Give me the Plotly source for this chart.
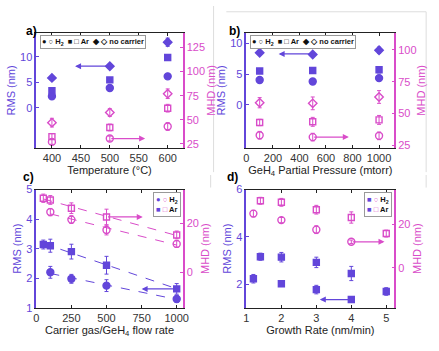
import numpy as np
import plotly.graph_objects as go

BLUE = '#6246DA'
PINK = '#D94CC9'
FONT = 'Liberation Sans, Arial, sans-serif'

# ---------------- Panel a : Temperature ----------------
temp = [400, 500, 600]
a_rms_h2 = [2.3, 3.9, 6.2]
a_rms_ar = [3.4, 5.5, 9.9]
a_rms_nc = [5.9, 8.2, 12.9]
a_rms_h2_err = [0.3, 0.4, 0.5]
a_rms_ar_err = [0.3, 0.3, 0.3]
a_rms_nc_err = [0.3, 0.3, 0.8]
a_mhd_h2 = [27, 30.5, 43]
a_mhd_ar = [32.5, 42, 62]
a_mhd_nc = [47, 57.5, 77]
a_mhd_h2_err = [2.5, 2.5, 4]
a_mhd_ar_err = [3, 3.5, 4]
a_mhd_nc_err = [4.5, 4, 5]

# ---------------- Panel b : GeH4 partial pressure ----------------
pp = [100, 500, 1000]
b_rms_h2 = [4.05, 3.8, 4.35]
b_rms_ar = [5.5, 5.6, 5.7]
b_rms_nc = [8.5, 8.2, 8.9]
b_rms_h2_err = [0.3, 0.4, 0.3]
b_rms_ar_err = [0.3, 0.3, 0.5]
b_rms_nc_err = [0.3, 0.3, 0.5]
b_mhd_h2 = [33, 31.5, 32.5]
b_mhd_ar = [43, 43.5, 45]
b_mhd_nc = [58.5, 58, 63]
b_mhd_h2_err = [3, 3, 3]
b_mhd_ar_err = [2.5, 3.5, 3.5]
b_mhd_nc_err = [4, 5, 5]

# ---------------- Panel c : Carrier gas / GeH4 flow rate ----------------
flow_h2 = [100, 250, 500, 1000]
flow_ar = [50, 100, 250, 500, 1000]
c_rms_h2 = [2.2, 1.98, 1.75, 1.3]
c_rms_h2_err = [0.2, 0.15, 0.2, 0.12]
c_rms_ar = [3.14, 3.1, 2.9, 2.44, 1.64]
c_rms_ar_err = [0.15, 0.22, 0.25, 0.3, 0.18]
c_mhd_h2 = [24.7, 21.6, 17.3, 11.6]
c_mhd_h2_err = [1.5, 1.6, 2.0, 1.3]
c_mhd_ar = [30.4, 29.7, 26.3, 22.7, 15.3]
c_mhd_ar_err = [1.7, 1.8, 2.2, 3.2, 1.6]

# ---------------- Panel d : Growth rate ----------------
gr_h2 = [1.2, 2, 3, 4]
gr_ar = [1.4, 2, 3, 4, 5]
d_rms_h2 = [2.23, 2.02, 1.77, 1.35]
d_rms_h2_err = [0.18, 0.12, 0.18, 0.08]
d_rms_ar = [3.16, 3.14, 2.92, 2.45, 1.69]
d_rms_ar_err = [0.15, 0.2, 0.22, 0.3, 0.16]
d_mhd_h2 = [24.9, 21.9, 17.5, 11.9]
d_mhd_h2_err = [1.5, 1.2, 1.8, 0.8]
d_mhd_ar = [30.8, 30.1, 26.7, 23.1, 15.7]
d_mhd_ar_err = [1.6, 1.8, 2.0, 2.6, 1.6]

W, H = 439, 351
def px(x):
    return x / W
def py(y):
    return 1 - y / H

fig = go.Figure()

SIZES = {'circle': 7, 'circle-open': 7, 'square': 6, 'square-open': 6,
         'diamond': 6.5, 'diamond-open': 6.5}

def pts(x, y, err, ax_x, ax_y, color, symbol):
    fig.add_trace(go.Scatter(
        x=x, y=y, mode='markers', xaxis=ax_x, yaxis=ax_y, showlegend=False,
        marker=dict(symbol=symbol, size=SIZES[symbol], color=color,
                    line=dict(color=color, width=1.4)),
        error_y=dict(type='data', array=err, color=color, thickness=1, width=2)))

def fitline(x, y, ax_x, ax_y, color):
    k, b = np.polyfit(x, y, 1)
    xs = np.array([min(x), max(x)])
    fig.add_trace(go.Scatter(
        x=xs, y=k * xs + b, mode='lines', xaxis=ax_x, yaxis=ax_y, showlegend=False,
        line=dict(color=color, width=1, dash='dash')))

# a
pts(temp, a_rms_nc, a_rms_nc_err, 'x', 'y', BLUE, 'diamond')
pts(temp, a_rms_ar, a_rms_ar_err, 'x', 'y', BLUE, 'square')
pts(temp, a_rms_h2, a_rms_h2_err, 'x', 'y', BLUE, 'circle')
pts(temp, a_mhd_nc, a_mhd_nc_err, 'x', 'y2', PINK, 'diamond-open')
pts(temp, a_mhd_ar, a_mhd_ar_err, 'x', 'y2', PINK, 'square-open')
pts(temp, a_mhd_h2, a_mhd_h2_err, 'x', 'y2', PINK, 'circle-open')
# b
pts(pp, b_rms_nc, b_rms_nc_err, 'x2', 'y3', BLUE, 'diamond')
pts(pp, b_rms_ar, b_rms_ar_err, 'x2', 'y3', BLUE, 'square')
pts(pp, b_rms_h2, b_rms_h2_err, 'x2', 'y3', BLUE, 'circle')
pts(pp, b_mhd_nc, b_mhd_nc_err, 'x2', 'y4', PINK, 'diamond-open')
pts(pp, b_mhd_ar, b_mhd_ar_err, 'x2', 'y4', PINK, 'square-open')
pts(pp, b_mhd_h2, b_mhd_h2_err, 'x2', 'y4', PINK, 'circle-open')
# c
fitline(flow_h2, c_rms_h2, 'x3', 'y5', BLUE)
fitline(flow_ar, c_rms_ar, 'x3', 'y5', BLUE)
fitline(flow_h2, c_mhd_h2, 'x3', 'y6', PINK)
fitline(flow_ar, c_mhd_ar, 'x3', 'y6', PINK)
pts(flow_h2, c_rms_h2, c_rms_h2_err, 'x3', 'y5', BLUE, 'circle')
pts(flow_ar, c_rms_ar, c_rms_ar_err, 'x3', 'y5', BLUE, 'square')
pts(flow_h2, c_mhd_h2, c_mhd_h2_err, 'x3', 'y6', PINK, 'circle-open')
pts(flow_ar, c_mhd_ar, c_mhd_ar_err, 'x3', 'y6', PINK, 'square-open')
# d
pts(gr_h2, d_rms_h2, d_rms_h2_err, 'x4', 'y7', BLUE, 'square')
pts(gr_ar, d_rms_ar, d_rms_ar_err, 'x4', 'y7', BLUE, 'square')
pts(gr_h2, d_mhd_h2, d_mhd_h2_err, 'x4', 'y8', PINK, 'circle-open')
pts(gr_ar, d_mhd_ar, d_mhd_ar_err, 'x4', 'y8', PINK, 'square-open')

def xax(domain, anchor, rng, tickvals, title):
    return dict(domain=domain, anchor=anchor, range=rng, tickvals=tickvals,
                showline=True, linecolor='#222', linewidth=1, mirror='ticks',
                ticks='inside', ticklen=3, tickcolor='#222', showgrid=False, zeroline=False,
                tickfont=dict(family=FONT, size=11, color='#333'),
                title=dict(text=title, font=dict(family=FONT, size=11, color='#222'), standoff=2))

def yl(domain, anchor, rng, tickvals):
    return dict(domain=domain, anchor=anchor, range=rng, tickvals=tickvals,
                showline=True, linecolor=BLUE, linewidth=1.5, ticks='inside', ticklen=3,
                tickcolor=BLUE, showgrid=False, zeroline=False,
                tickfont=dict(family=FONT, size=11, color=BLUE),
                title=dict(text='RMS (nm)', font=dict(family=FONT, size=11, color=BLUE), standoff=2))

def yr(overlay, anchor, rng, tickvals):
    return dict(overlaying=overlay, anchor=anchor, side='right', range=rng, tickvals=tickvals,
                showline=True, linecolor=PINK, linewidth=1.5, ticks='inside', ticklen=3,
                tickcolor=PINK, showgrid=False, zeroline=False,
                tickfont=dict(family=FONT, size=11, color=PINK),
                title=dict(text='MHD (nm)', font=dict(family=FONT, size=11, color=PINK), standoff=2))

dom_xl = [px(34), px(183.5)]
dom_xr = [px(248.5), px(399.5)]
dom_yt = [py(146.7), py(28)]
dom_yb = [py(312.5), py(190)]

fig.update_layout(
    width=W, height=H, margin=dict(l=0, r=0, t=0, b=0),
    paper_bgcolor='white', plot_bgcolor='white',
    font=dict(family=FONT),
    xaxis=xax(dom_xl, 'y', [373, 626], [400, 450, 500, 550, 600], 'Temperature (°C)'),
    yaxis=yl(dom_yt, 'x', [-7.8, 14.7], [0, 5, 10]),
    yaxis2=yr('y', 'x', [21, 140], [25, 50, 75, 100, 125]),
    xaxis2=xax(dom_xr, 'y3', [0, 1115], [0, 200, 400, 600, 800, 1000], 'GeH<sub>4</sub> Partial Pressure (mtorr)'),
    yaxis3=yl(dom_yt, 'x2', [-7, 11.7], [0, 5, 10]),
    yaxis4=yr('y3', 'x2', [23.2, 113.2], [25, 50, 75, 100]),
    xaxis3=xax(dom_xl, 'y5', [0, 1043], [0, 250, 500, 750, 1000], 'Carrier gas/GeH<sub>4</sub> flow rate'),
    yaxis5=yl(dom_yb, 'x3', [1, 5], [1, 2, 3, 4, 5]),
    yaxis6=yr('y5', 'x3', [-14.7, 34], [0, 20]),
    xaxis4=xax(dom_xr, 'y7', [1, 5.23], [1, 2, 3, 4, 5], 'Growth Rate (nm/min)'),
    yaxis7=yl(dom_yb, 'x4', [1, 6], [2, 4, 6]),
    yaxis8=yr('y7', 'x4', [-18.5, 36], [0, 20]),
)

def arrow(xref, yref, x0, y0, x1, y1, color):
    fig.add_annotation(x=x1, y=y1, ax=x0, ay=y0, xref=xref, yref=yref, axref=xref, ayref=yref,
                       text='', showarrow=True, arrowhead=2, arrowsize=1, arrowwidth=1.2,
                       arrowcolor=color, standoff=0, startstandoff=0)

arrow('x', 'y', temp[1], a_rms_nc[1], 440, a_rms_nc[1], BLUE)
arrow('x', 'y2', temp[1], a_mhd_h2[1], 561, a_mhd_h2[1], PINK)
arrow('x2', 'y3', pp[1], 8.3, 243, 8.3, BLUE)
arrow('x2', 'y4', pp[1], b_mhd_h2[1], 772, b_mhd_h2[1], PINK)
arrow('x3', 'y6', flow_ar[3], c_mhd_ar[3], 758, c_mhd_ar[3], PINK)
arrow('x3', 'y5', flow_ar[4], c_rms_ar[4], 750, c_rms_ar[4], BLUE)
arrow('x4', 'y7', gr_h2[3], d_rms_h2[3], 3.1, d_rms_h2[3], BLUE)
arrow('x4', 'y8', gr_h2[3], d_mhd_h2[3], 4.95, d_mhd_h2[3], PINK)

# legends as bordered text
leg_top = '<b>● ○ H<sub>2</sub>  ■ □ Ar  ◆ ◇ no carrier</b>'
for xr, yr_ in (('x domain', 'y domain'), ('x2 domain', 'y3 domain')):
    fig.add_annotation(xref=xr, yref=yr_, x=0.025, y=0.985, xanchor='left', yanchor='top',
                       text=leg_top, showarrow=False, align='left',
                       font=dict(family=FONT, size=7.5, color='#111'),
                       bordercolor='#999', borderwidth=1, borderpad=1, bgcolor='white')

def sp(c, s):
    return f'<span style="color:{c}">{s}</span>'

leg_c = (f'<b>{sp(BLUE, "●")} {sp(PINK, "○")} H<sub>2</sub><br>'
         f'{sp(BLUE, "■")} {sp(PINK, "□")} Ar</b>')
leg_d = (f'<b>{sp(BLUE, "■")} {sp(PINK, "○")} H<sub>2</sub><br>'
         f'{sp(BLUE, "■")} {sp(PINK, "□")} Ar</b>')
for xr, yr_, t in (('x3 domain', 'y5 domain', leg_c), ('x4 domain', 'y7 domain', leg_d)):
    fig.add_annotation(xref=xr, yref=yr_, x=0.985, y=0.975, xanchor='right', yanchor='top',
                       text=t, showarrow=False, align='left',
                       font=dict(family=FONT, size=7.5, color='#111'),
                       bordercolor='#999', borderwidth=1, borderpad=2, bgcolor='white')

# panel labels
for lab, x, y in (('a)', 21, 17), ('b)', 236, 17), ('c)', 18, 177), ('d)', 234, 177)):
    fig.add_annotation(xref='paper', yref='paper', x=px(x), y=py(y), text=f'<b>{lab}</b>',
                       showarrow=False, font=dict(family=FONT, size=12, color='black'))

# faint panel frame lines
for x0, y0, x1, y1 in ((215, 0, 215, 172), (228, 6, 432, 6), (432, 6, 432, 172),
                       (212, 175, 212, 188), (432, 175, 432, 188)):
    fig.add_shape(type='line', xref='paper', yref='paper', x0=px(x0), y0=py(y0), x1=px(x1), y1=py(y1),
                  line=dict(color='#dddddd', width=1))

fig.write_html('out.html')
